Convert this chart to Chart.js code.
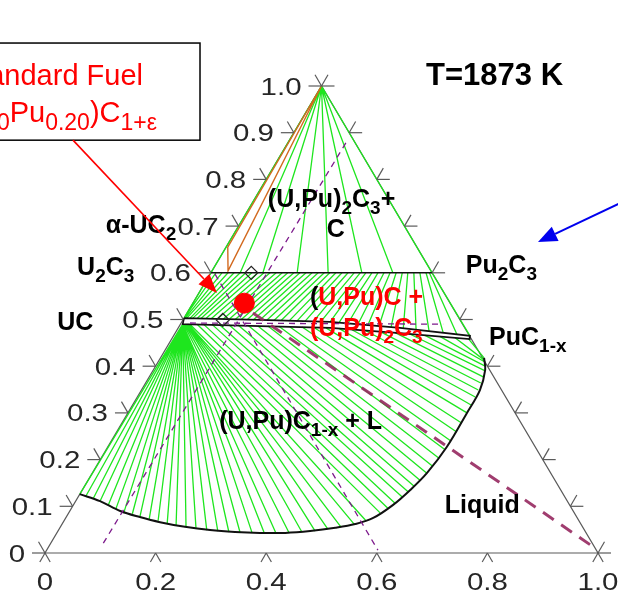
<!DOCTYPE html>
<html>
<head>
<meta charset="utf-8">
<script src="https://cdn.jsdelivr.net/npm/chart.js@4.4.1/dist/chart.umd.min.js"></script>
<style>
  html, body { margin: 0; padding: 0; background: #fff; overflow: hidden; }
  canvas { display: block; }
</style>
</head>
<body>
<canvas id="chart" width="618" height="599"></canvas>
<script>
// U–Pu–C isothermal section at 1873 K.
// Every composition is written as [x(Pu), x(C)] in mole fraction; x(U) = 1 - x(Pu) - x(C).

// ---- axis ticks ----
const leftTickValues   = [0, 0.1, 0.2, 0.3, 0.4, 0.5, 0.6, 0.7, 0.8, 0.9, 1.0];
const leftTickLabels   = ['0', '0.1', '0.2', '0.3', '0.4', '0.5', '0.6', '0.7', '0.8', '0.9', '1.0'];
const rightTickValues  = [0, 0.1, 0.2, 0.3, 0.4, 0.5, 0.6, 0.7, 0.8, 0.9, 1.0];
const bottomTickValues = [0, 0.2, 0.4, 0.6, 0.8, 1.0];
const bottomTickLabels = ['0', '0.2', '0.4', '0.6', '0.8', '1.0'];

// ---- (U,Pu)2C3 + C field: tie lines from the carbon corner ----
const carbonCorner = [0, 1];
const sesquiC = 0.60;
const topFanPu = [0.000, 0.053, 0.094, 0.156, 0.212, 0.273, 0.329, 0.400];

// ---- (U,Pu)C + (U,Pu)2C3 field: sesquicarbide end (x(C)=0.60) -> monocarbide end ----
const midTopPu = [0.000, 0.009, 0.020, 0.031, 0.042, 0.053, 0.063, 0.074, 0.085, 0.096,
                  0.107, 0.118, 0.129, 0.139, 0.150, 0.161, 0.172, 0.183, 0.194, 0.205,
                  0.215, 0.226, 0.237, 0.248, 0.259, 0.270, 0.280, 0.291, 0.302, 0.313,
                  0.324, 0.335, 0.346, 0.356, 0.367, 0.378, 0.389, 0.395, 0.400];
const midBotPu = [0.000, 0.000, 0.002, 0.005, 0.011, 0.016, 0.024, 0.031, 0.040, 0.050,
                  0.061, 0.072, 0.083, 0.094, 0.105, 0.116, 0.127, 0.139, 0.152, 0.165,
                  0.178, 0.193, 0.207, 0.222, 0.237, 0.251, 0.268, 0.285, 0.302, 0.321,
                  0.340, 0.361, 0.384, 0.407, 0.432, 0.457, 0.484, 0.511, 0.536];
const midBotC  = [0.503, 0.503, 0.503, 0.503, 0.503, 0.503, 0.502, 0.502, 0.502, 0.502,
                  0.501, 0.501, 0.501, 0.500, 0.500, 0.500, 0.499, 0.499, 0.499, 0.498,
                  0.498, 0.497, 0.496, 0.496, 0.495, 0.495, 0.495, 0.494, 0.492, 0.490,
                  0.488, 0.486, 0.484, 0.482, 0.478, 0.475, 0.472, 0.468, 0.465];

// ---- (U,Pu)C1-x + L field: monocarbide end -> liquid end ----
const lowStartPu = [0.004, 0.004, 0.004, 0.004, 0.004, 0.004, 0.004, 0.004, 0.004, 0.004,
                    0.004, 0.004, 0.004, 0.004, 0.004, 0.004, 0.004, 0.004, 0.004, 0.004,
                    0.004, 0.004, 0.006, 0.008, 0.010, 0.011, 0.012, 0.013, 0.014,
                    0.017, 0.030, 0.043, 0.058, 0.072, 0.089, 0.105, 0.124, 0.142, 0.160,
                    0.181, 0.201, 0.223, 0.245, 0.267, 0.291, 0.316, 0.342, 0.369, 0.397,
                    0.425, 0.454, 0.482, 0.511, 0.536];
const lowStartC  = [0.490, 0.490, 0.490, 0.490, 0.490, 0.490, 0.490, 0.490, 0.490, 0.490,
                    0.490, 0.490, 0.490, 0.490, 0.490, 0.490, 0.490, 0.490, 0.490, 0.490,
                    0.490, 0.490, 0.490, 0.490, 0.490, 0.490, 0.490, 0.490, 0.490,
                    0.490, 0.490, 0.489, 0.489, 0.488, 0.488, 0.488, 0.487, 0.486, 0.486,
                    0.485, 0.484, 0.484, 0.483, 0.482, 0.481, 0.478, 0.476, 0.474, 0.472,
                    0.469, 0.466, 0.464, 0.461, 0.459];
const lowEndPu   = [0.000, 0.013, 0.029, 0.044, 0.063, 0.081, 0.099, 0.116, 0.133, 0.152,
                    0.170, 0.189, 0.208, 0.227, 0.246, 0.268, 0.289, 0.310, 0.330, 0.353,
                    0.375, 0.396, 0.420, 0.442, 0.465, 0.486, 0.507, 0.528, 0.546,
                    0.563, 0.572, 0.579, 0.586, 0.591, 0.596, 0.600, 0.605, 0.608, 0.611,
                    0.613, 0.614, 0.615, 0.615, 0.613, 0.612, 0.611, 0.609, 0.606, 0.604,
                    0.601, 0.596, 0.591, 0.588, 0.585];
const lowEndC    = [0.126, 0.122, 0.116, 0.111, 0.103, 0.094, 0.088, 0.084, 0.077, 0.073,
                    0.069, 0.064, 0.058, 0.056, 0.054, 0.049, 0.047, 0.045, 0.045, 0.043,
                    0.043, 0.043, 0.043, 0.045, 0.047, 0.051, 0.056, 0.062, 0.069,
                    0.086, 0.096, 0.107, 0.120, 0.131, 0.143, 0.156, 0.171, 0.186, 0.203,
                    0.221, 0.240, 0.259, 0.278, 0.300, 0.317, 0.334, 0.349, 0.364, 0.377,
                    0.390, 0.400, 0.409, 0.413, 0.418];

// ---- phase boundaries ----
const mcUpperPu = [0.000, 0.139, 0.268, 0.401, 0.536];
const mcUpperC  = [0.503, 0.499, 0.495, 0.482, 0.465];
const mcLowerPu = [0.004, 0.146, 0.275, 0.406, 0.539];
const mcLowerC  = [0.490, 0.486, 0.482, 0.471, 0.458];
const liquidusPu = [0.000, 0.044, 0.091, 0.133, 0.175, 0.225, 0.274, 0.321, 0.367, 0.413, 0.456,
                    0.498, 0.530, 0.556, 0.578, 0.593, 0.605, 0.613, 0.613, 0.612, 0.600, 0.585];
const liquidusC  = [0.126, 0.111, 0.090, 0.077, 0.066, 0.056, 0.049, 0.045, 0.043, 0.043, 0.047,
                    0.054, 0.062, 0.075, 0.103, 0.135, 0.171, 0.227, 0.300, 0.349, 0.392, 0.418];
const alphaUC2Pu = [0.000, 0.003, 0.029, 0.000];
const alphaUC2C  = [1.000, 0.655, 0.604, 1.000];

// ---- sections and marked compositions ----
const sectionPuA = [0.095, 0.105], sectionCA = [0.021, 0.884];
const sectionPuB = [0.009, 0.599], sectionCB = [0.597, 0.006];
const sectionPuC = [0.016, 0.475], sectionCC = [0.4925, 0.490];
const fuelPathPu = [0.119, 0.992], fuelPathC = [0.514, 0.009];
const markerPu = [0.073, 0.072], markerC = [0.600, 0.499];
const fuelPu = [0.093], fuelC = [0.535];

// ---- helpers ----
const toXY = (pu, c) => ({ x: pu + c / 2, y: c });
const GAP = { x: NaN, y: NaN };
function tieLines(aPu, aC, bPu, bC) {
  const out = [];
  for (let i = 0; i < aPu.length; i++) out.push(toXY(aPu[i], aC[i]), toXY(bPu[i], bC[i]), GAP);
  return out;
}
const curve = (pu, c) => pu.map((p, i) => toXY(p, c[i]));
function lineSet(label, data, color, width, order, extra) {
  return Object.assign({
    label, data, showLine: true, borderColor: color, backgroundColor: color,
    borderWidth: width, pointRadius: 0, pointHoverRadius: 0, fill: false,
    tension: 0, spanGaps: false, clip: false, order
  }, extra || {});
}

const GREEN = '#1ee61e';
const datasets = [
  lineSet('tie lines: (U,Pu)2C3 + C',
    tieLines(topFanPu.map(() => carbonCorner[0]), topFanPu.map(() => carbonCorner[1]),
             topFanPu, topFanPu.map(() => sesquiC)), GREEN, 1.3, 30),
  lineSet('tie lines: (U,Pu)C + (U,Pu)2C3',
    tieLines(midTopPu, midTopPu.map(() => sesquiC), midBotPu, midBotC), GREEN, 1.3, 30),
  lineSet('tie lines: (U,Pu)C1-x + L',
    tieLines(lowStartPu, lowStartC, lowEndPu, lowEndC), GREEN, 1.3, 30),
  lineSet('alpha-UC2 field', curve(alphaUC2Pu, alphaUC2C), '#d2691e', 1.4, 20),
  lineSet('(U,Pu)2C3 line', curve([0, 0.400], [sesquiC, sesquiC]), '#111', 1.6, 15),
  lineSet('(U,Pu)C1-x band',
    curve(mcUpperPu.concat(mcLowerPu.slice().reverse(), [mcUpperPu[0]]),
          mcUpperC.concat(mcLowerC.slice().reverse(), [mcUpperC[0]])), '#111', 1.7, 15),
  lineSet('liquidus', curve(liquidusPu, liquidusC), '#111', 2, 15, { tension: 0.35 }),
  lineSet('sections',
    curve(sectionPuA, sectionCA).concat([GAP], curve(sectionPuB, sectionCB), [GAP], curve(sectionPuC, sectionCC)),
    '#7d1a8c', 1.3, 8, { borderDash: [6, 5] }),
  lineSet('fuel path', curve(fuelPathPu, fuelPathC), 'rgba(150,40,95,0.9)', 3, 7, { borderDash: [13, 9] }),
  {
    label: 'markers', data: curve(markerPu, markerC), showLine: false, pointStyle: 'rectRot',
    pointRadius: 6.5, pointBorderColor: '#222', pointBackgroundColor: 'rgba(0,0,0,0)',
    pointBorderWidth: 1.2, clip: false, order: 3
  },
  {
    label: 'standard fuel', data: curve(fuelPu, fuelC), showLine: false, pointStyle: 'circle',
    pointRadius: 10, pointBorderColor: '#ff0000', pointBackgroundColor: '#ff0000',
    pointBorderWidth: 1, clip: false, order: 1
  }
];

// ---- text with subscripts, written as "C_{3}" ----
function richParts(s) {
  const out = []; const re = /_\{([^}]*)\}/g; let last = 0, m;
  while ((m = re.exec(s))) {
    if (m.index > last) out.push({ t: s.slice(last, m.index), sub: false });
    out.push({ t: m[1], sub: true }); last = re.lastIndex;
  }
  if (last < s.length) out.push({ t: s.slice(last), sub: false });
  return out;
}
function drawRich(ctx, s, x, y, o) {
  const parts = richParts(s);
  const fontFor = p => (o.bold ? 'bold ' : '') + (p.sub ? o.subSize : o.size) + 'px ' + o.family;
  let w = 0;
  parts.forEach(p => { ctx.font = fontFor(p); p.w = ctx.measureText(p.t).width; w += p.w; });
  let cx = o.align === 'right' ? x - w : o.align === 'center' ? x - w / 2 : x;
  ctx.textAlign = 'left'; ctx.textBaseline = 'alphabetic';
  parts.forEach(p => {
    ctx.font = fontFor(p); ctx.fillStyle = o.color;
    ctx.fillText(p.t, cx, p.sub ? y + o.subDy : y); cx += p.w;
  });
  return w;
}
// tick numbers are set in a horizontally widened face
function wideText(ctx, text, x, y, align, stretch) {
  ctx.save();
  ctx.translate(x, y); ctx.scale(stretch, 1);
  ctx.textAlign = align; ctx.fillText(text, 0, 0);
  ctx.restore();
}

// label anchors are given in the chart's own x / y scale units
const LABEL = { bold: true, size: 25, subSize: 19, subDy: 7, family: '"Liberation Sans"', color: '#000', align: 'left' };
const phaseLabels = [
  { text: '(U,Pu)_{2}C_{3}+', x: 0.403, y: 0.741 },
  { text: 'C', x: 0.526, y: 0.677, align: 'center' },
  { text: 'α-UC_{2}', x: 0.110, y: 0.685 },
  { text: 'U_{2}C_{3}', x: 0.058, y: 0.595 },
  { text: 'UC', x: 0.022, y: 0.478 },
  { text: 'Pu_{2}C_{3}', x: 0.761, y: 0.600 },
  { text: 'PuC_{1-x}', x: 0.803, y: 0.445 },
  { text: '(U,Pu)C_{1-x} + L', x: 0.315, y: 0.266 },
  { text: 'Liquid', x: 0.723, y: 0.086 },
  { text: '(U,Pu)_{2}C_{3}', x: 0.479, y: 0.465, color: '#ff0000' }
];

function arrow(ctx, a, b, color, width, headLen, headW) {
  const ang = Math.atan2(b.y - a.y, b.x - a.x);
  const bx = b.x - headLen * Math.cos(ang), by = b.y - headLen * Math.sin(ang);
  ctx.strokeStyle = color; ctx.fillStyle = color; ctx.lineWidth = width;
  ctx.beginPath(); ctx.moveTo(a.x, a.y); ctx.lineTo(bx, by); ctx.stroke();
  ctx.beginPath(); ctx.moveTo(b.x, b.y);
  ctx.lineTo(bx + headW / 2 * Math.sin(ang), by - headW / 2 * Math.cos(ang));
  ctx.lineTo(bx - headW / 2 * Math.sin(ang), by + headW / 2 * Math.cos(ang));
  ctx.closePath(); ctx.fill();
}

const ternaryFrame = {
  id: 'ternaryFrame',
  beforeDraw(chart) {
    const ctx = chart.ctx;
    ctx.save(); ctx.fillStyle = '#fff'; ctx.fillRect(0, 0, chart.width, chart.height); ctx.restore();
  },
  beforeDatasetsDraw(chart) {
    const ctx = chart.ctx, sx = chart.scales.x, sy = chart.scales.y;
    const P = (pu, c) => ({ x: sx.getPixelForValue(pu + c / 2), y: sy.getPixelForValue(c) });
    const u = P(0, 0), pu = P(1, 0), c = P(0, 1);
    ctx.save();
    ctx.strokeStyle = '#5a5a5a'; ctx.lineWidth = 1.2;
    ctx.beginPath(); ctx.moveTo(u.x, u.y); ctx.lineTo(pu.x, pu.y); ctx.lineTo(c.x, c.y); ctx.closePath(); ctx.stroke();
    ctx.restore();
  },
  afterDatasetsDraw(chart) {
    const ctx = chart.ctx, sx = chart.scales.x, sy = chart.scales.y;
    const P = (pu, c) => ({ x: sx.getPixelForValue(pu + c / 2), y: sy.getPixelForValue(c) });
    const Q = (X, Y) => ({ x: sx.getPixelForValue(X), y: sy.getPixelForValue(Y) });
    ctx.save();

    // tick marks along the three edges
    const L = 13, dx = L * 0.5, dy = L * Math.sqrt(3) / 2;
    ctx.strokeStyle = '#5a5a5a'; ctx.lineWidth = 1.2;
    const seg = (p, ddx, ddy) => { ctx.beginPath(); ctx.moveTo(p.x, p.y); ctx.lineTo(p.x + ddx, p.y + ddy); ctx.stroke(); };
    leftTickValues.forEach(v => { const p = P(0, v); seg(p, -L, 0); seg(p, -dx, -dy); });
    rightTickValues.forEach(v => { const p = P(1 - v, v); seg(p, L, 0); seg(p, dx, -dy); });
    bottomTickValues.forEach(v => { const p = P(v, 0); seg(p, -dx * 0.8, dy * 0.8); seg(p, dx * 0.8, dy * 0.8); });

    // tick labels
    ctx.fillStyle = '#262626'; ctx.font = '23px "Liberation Sans"'; ctx.textBaseline = 'alphabetic';
    leftTickValues.forEach((v, i) => { const p = P(0, v); wideText(ctx, leftTickLabels[i], p.x - 20, p.y + 8.5, 'right', 1.28); });
    bottomTickValues.forEach((v, i) => { const p = P(v, 0); wideText(ctx, bottomTickLabels[i], p.x, p.y + 37, 'center', 1.28); });

    // phase labels
    phaseLabels.forEach(l => {
      const p = Q(l.x, l.y);
      drawRich(ctx, l.text, p.x, p.y, Object.assign({}, LABEL, { align: l.align || 'left', color: l.color || '#000' }));
    });
    {
      const p = Q(0.479, 0.531);
      const w = drawRich(ctx, '(', p.x, p.y, LABEL);
      drawRich(ctx, 'U,Pu)C +', p.x + w, p.y, Object.assign({}, LABEL, { color: '#ff0000' }));
    }
    {
      const p = Q(0.689, 1.002);
      ctx.font = 'bold 31px "Liberation Sans"'; ctx.fillStyle = '#000'; ctx.textAlign = 'left';
      ctx.fillText('T=1873 K', p.x, p.y);
    }

    // standard fuel call-out
    const b0 = Q(-0.085, 1.092), b1 = Q(0.2803, 0.884);
    ctx.strokeStyle = '#000'; ctx.lineWidth = 1.5;
    ctx.strokeRect(b0.x, b0.y, b1.x - b0.x, b1.y - b0.y);
    const FUEL = { bold: false, size: 29, subSize: 23, subDy: 8, family: '"Liberation Sans"', color: '#ff0000', align: 'right' };
    let p = Q(0.1772, 1.002);
    drawRich(ctx, 'Standard Fuel', p.x, p.y, FUEL);
    p = Q(0.2025, 0.923);
    drawRich(ctx, '(U_{0.80}Pu_{0.20})C_{1+ε}', p.x, p.y, FUEL);
    arrow(ctx, Q(0.0506, 0.884), Q(0.311, 0.557), '#ff0000', 1.6, 19, 15);
    arrow(ctx, Q(1.04, 0.749), Q(0.8915, 0.666), '#0000ee', 2, 19, 16);

    ctx.restore();
  }
};

new Chart(document.getElementById('chart').getContext('2d'), {
  type: 'scatter',
  data: { datasets },
  options: {
    responsive: false,
    animation: false,
    events: [],
    layout: { padding: { left: 45, right: 20, top: 86, bottom: 46 } },
    scales: {
      x: { type: 'linear', min: 0, max: 1, display: false },
      y: { type: 'linear', min: 0, max: 1, display: false }
    },
    plugins: { legend: { display: false }, tooltip: { enabled: false } }
  },
  plugins: [ternaryFrame]
});
</script>
</body>
</html>
